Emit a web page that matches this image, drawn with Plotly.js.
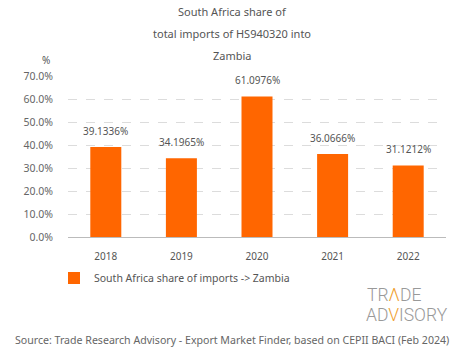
<!DOCTYPE html>
<html><head><meta charset="utf-8">
<script src="https://cdn.plot.ly/plotly-3.0.1.min.js"></script>
<style>body{margin:0;padding:0;background:#fff}#chart{width:465px;height:359px}</style>
</head><body><div id="chart"></div>
<script>
const years = ['2018','2019','2020','2021','2022'];
const shares = [39.1336, 34.1965, 61.0976, 36.0666, 31.1212];
const labels = ['39.1336%','34.1965%','61.0976%','36.0666%','31.1212%'];
const seriesName = 'South Africa share of imports -> Zambia';
const titleLines = ['South Africa share of','total imports of HS940320 into','Zambia'];
const yTicks = [0,10,20,30,40,50,60,70];
const yTickText = ['0.0%','10.0%','20.0%','30.0%','40.0%','50.0%','60.0%','70.0%'];

const font = '"Noto Sans", "DejaVu Sans", sans-serif';
const trace = {
  type: 'bar', x: years, y: shares, name: seriesName,
  marker: {color: '#ff6600'},
  hoverinfo: 'none'
};
// plot area: top 76px, bottom 237px (161px tall)
const py = y => (237 - y) / 161;
const px = x => (x - 68) / 378;

const annotations = [];
titleLines.forEach((t, i) => annotations.push({
  text: t, xref: 'paper', yref: 'paper', x: px(232), y: py([12, 33, 55][i]),
  xanchor: 'center', yanchor: 'middle', showarrow: false,
  font: {size: 11, color: '#555', family: font}
}));
years.forEach((yr, i) => annotations.push({
  text: labels[i], x: i, y: shares[i], xref: 'x', yref: 'y',
  xanchor: 'center', yanchor: 'middle', yshift: 16, showarrow: false,
  font: {size: 10, color: '#555', family: font}
}));
annotations.push(
  {text: '%', xref: 'paper', yref: 'paper', x: px(46), y: py(60), xanchor: 'center', yanchor: 'middle',
   showarrow: false, font: {size: 10, color: '#555'}},
  {text: 'TR<span style="color:#f0a030">Λ</span>DE', xref: 'paper', yref: 'paper', x: px(365), y: py(295), xanchor: 'left', yanchor: 'middle',
   showarrow: false, font: {size: 17.5, color: '#999', family: '"Roboto", "Liberation Sans", sans-serif', weight: 300}},
  {text: 'AD<span style="color:#f0a030">V</span>ISORY', xref: 'paper', yref: 'paper', x: px(364), y: py(315), xanchor: 'left', yanchor: 'middle',
   showarrow: false, font: {size: 17.5, color: '#999', family: '"Roboto", "Liberation Sans", sans-serif', weight: 300}},
  {text: 'Source: Trade Research Advisory - Export Market Finder, based on CEPII BACI (Feb 2024)',
   xref: 'paper', yref: 'paper', x: px(232), y: py(340), xanchor: 'center', yanchor: 'middle',
   showarrow: false, font: {size: 10.6, color: '#666', family: font}}
);

const layout = {
  width: 465, height: 359,
  margin: {l: 68, r: 19, t: 76, b: 122},
  paper_bgcolor: '#fff', plot_bgcolor: '#fff',
  font: {family: font, color: '#666', size: 10},
  bargap: 0.59,
  showlegend: true,
  legend: {orientation: 'h', x: px(54), xanchor: 'left', y: py(278), yanchor: 'middle',
           itemwidth: 30, font: {size: 10.5, color: '#555', family: font}},
  xaxis: {type: 'category', range: [-0.5, 4.5], showgrid: false, showline: false, ticks: '', zeroline: false,
          tickfont: {size: 10, color: '#555'}, ticklabelstandoff: 12},
  yaxis: {range: [0, 70], tickvals: yTicks, ticktext: yTickText, showline: false, ticks: '',
          gridcolor: '#dcdcdc', griddash: 'dash', gridwidth: 1, zeroline: true, zerolinecolor: '#bbb', zerolinewidth: 1,
          tickfont: {size: 10.5, color: '#666'}, ticklabelstandoff: 14},
  annotations: annotations
};
Plotly.newPlot('chart', [trace], layout, {displayModeBar: false, staticPlot: true});
</script></body></html>
